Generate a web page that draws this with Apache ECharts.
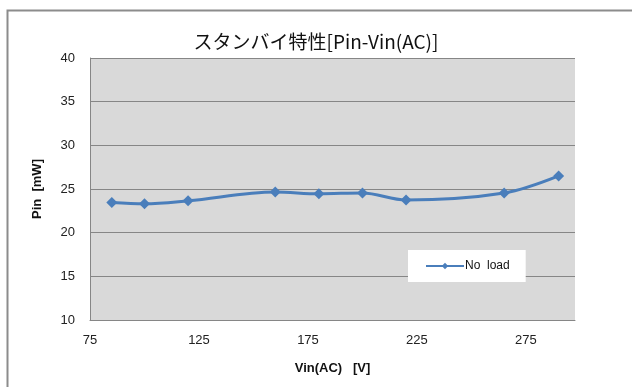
<!DOCTYPE html>
<html>
<head>
<meta charset="utf-8">
<script src="https://cdn.jsdelivr.net/npm/echarts@6/dist/echarts.min.js"></script>
<style>
  html, body { margin: 0; padding: 0; background: #ffffff; }
  #chart { width: 632px; height: 387px; }
</style>
</head>
<body>
<div id="chart"></div>
<script>
// Standby input power vs. AC input voltage
const vinAC = [85, 100, 120, 160, 180, 200, 220, 265, 290];
const pinNoLoad = [23.45, 23.3, 23.65, 24.65, 24.45, 24.55, 23.75, 24.55, 26.5];
const xTicks = { min: 75, max: 297.5, step: 50 };
const yTicks = { min: 10, max: 40, step: 5 };
const seriesName = 'No  load';

const points = vinAC.map((v, i) => [v, pinNoLoad[i]]);

const chart = echarts.init(document.getElementById('chart'), null, { renderer: 'canvas' });
const labelFont = { fontFamily: '"Liberation Sans", Arial, sans-serif', fontSize: 13, color: '#222' };
const frame = {
  type: 'rect',
  shape: { x: 7.5, y: 10.5, width: 700, height: 500 },
  style: { fill: 'none', stroke: '#8c8c8c', lineWidth: 2 },
  silent: true
};

chart.setOption({
  backgroundColor: '#ffffff',
  animation: false,
  title: {
    text: 'スタンバイ特性[Pin-Vin(AC)]',
    left: 'center',
    top: 27,
    textStyle: {
      fontFamily: '"Noto Sans CJK JP", sans-serif',
      fontSize: 19,
      fontWeight: 'normal',
      color: '#111'
    }
  },
  grid: { left: 90, right: 57, top: 58, bottom: 67 },
  xAxis: {
    type: 'value',
    min: xTicks.min,
    max: xTicks.max,
    interval: xTicks.step,
    name: 'Vin(AC)   [V]',
    nameLocation: 'middle',
    nameGap: 42,
    nameTextStyle: { fontFamily: '"Liberation Sans", Arial, sans-serif', fontSize: 13, fontWeight: 'bold', color: '#111' },
    axisLine: { show: true, lineStyle: { color: '#868686', width: 1 } },
    axisTick: { show: false },
    splitLine: { show: false },
    axisLabel: Object.assign({ margin: 14, showMaxLabel: false }, labelFont)
  },
  yAxis: {
    type: 'value',
    min: yTicks.min,
    max: yTicks.max,
    interval: yTicks.step,
    name: 'Pin  [mW]',
    nameLocation: 'middle',
    nameGap: 46,
    nameRotate: 90,
    nameTextStyle: { fontFamily: '"Liberation Sans", Arial, sans-serif', fontSize: 13, fontWeight: 'bold', color: '#111' },
    axisLine: { show: true, lineStyle: { color: '#868686', width: 1 } },
    axisTick: { show: false },
    splitLine: { show: true, lineStyle: { color: '#868686', width: 1 } },
    axisLabel: Object.assign({ margin: 15 }, labelFont)
  },
  legend: {
    data: [seriesName],
    left: 408,
    top: 250,
    width: 117,
    backgroundColor: '#ffffff',
    padding: [10, 16, 10, 17],
    itemWidth: 38,
    itemHeight: 8,
    itemGap: 2,
    textStyle: { fontFamily: '"Liberation Sans", Arial, sans-serif', fontSize: 12, color: '#111', padding: [0, 0, 0, -4] }
  },
  series: [{
    name: seriesName,
    type: 'line',
    data: points,
    smooth: 0.35,
    symbol: 'diamond',
    symbolSize: 11,
    itemStyle: { color: '#4a7ebb' },
    lineStyle: { color: '#4a7ebb', width: 3 }
  }]
});

// Plot area fill behind the series, plus the outer chart frame
const rect = chart.getModel().getComponent('grid').coordinateSystem.getRect();
chart.setOption({
  graphic: [frame, {
    type: 'rect',
    z: -1,
    shape: { x: rect.x, y: rect.y, width: rect.width, height: rect.height },
    style: { fill: '#d9d9d9' },
    silent: true
  }]
});
</script>
</body>
</html>
